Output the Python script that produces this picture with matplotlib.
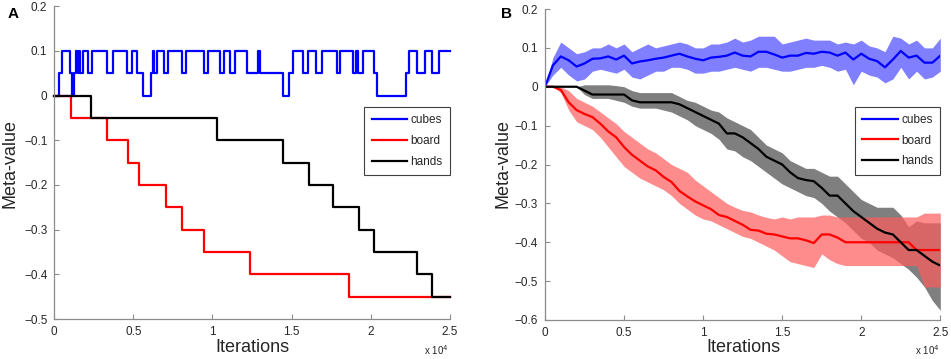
#!/usr/bin/env python3
"""Meta-value over training iterations: single run (A) and mean +/- spread (B)."""
import matplotlib.pyplot as plt
import numpy as np
from matplotlib.lines import Line2D
from matplotlib.ticker import FuncFormatter

plt.rcParams["font.family"] = ["Liberation Sans", "DejaVu Sans"]

LABELS = ["cubes", "board", "hands"]
COLORS = ["#0000ff", "#ff0000", "#000000"]

# ---- panel A: step changes (iteration where level changes, new level)
A_CUBES_X = [0, 320, 510, 990, 1100, 1240, 1370, 1480, 1560, 1640, 1830, 2150, 2380,
             3350, 3730, 4570, 4890, 5210, 5630, 6090, 6220, 6300, 6470, 6940, 7210,
             8050, 8330, 9470, 9740, 10480, 10730, 11110, 11430, 12160, 12900, 13010,
             14480, 14860, 15070, 15750, 16060, 16550, 16910, 17860, 18070, 18870,
             19080, 19230, 19500, 20220, 20430, 22240, 22450, 22910, 23440, 23860,
             24350, 25000]
A_CUBES_Y = [0, 0.05, 0.1, 0.05, 0, 0.05, 0.1, 0.05, 0.1, 0.05, 0.1, 0.05, 0.1,
             0.05, 0.1, 0.05, 0.1, 0.05, 0, 0.05, 0.1, 0.05, 0.1, 0.05, 0.1,
             0.05, 0.1, 0.05, 0.1, 0.05, 0.1, 0.05, 0.1, 0.05, 0.1, 0.05,
             0, 0.05, 0.1, 0.05, 0.1, 0.05, 0.1, 0.05, 0.1, 0.05,
             0.1, 0.05, 0.1, 0.05, 0, 0.05, 0.1, 0.05, 0.1, 0.05,
             0.1, 0.1]
A_BOARD_X = [0, 1030, 3350, 4640, 5350, 7040, 8050, 9440, 12350, 18660, 25000]
A_BOARD_Y = [0, -0.05, -0.1, -0.15, -0.2, -0.25, -0.3, -0.35, -0.4, -0.45, -0.45]
A_HANDS_X = [0, 2320, 10270, 14440, 16130, 17600, 19250, 20240, 22910, 23860, 25000]
A_HANDS_Y = [0, -0.05, -0.1, -0.15, -0.2, -0.25, -0.3, -0.35, -0.4, -0.45, -0.45]

# ---- panel B: mean and band edges, sampled every 500 iterations
B_ITER = np.arange(0, 25001, 500)
B_CUBES_MEAN = [0, 0.055, 0.078, 0.068, 0.052, 0.06, 0.072, 0.073, 0.078, 0.07,
                0.08, 0.06, 0.065, 0.068, 0.072, 0.075, 0.08, 0.085, 0.078, 0.072,
                0.068, 0.075, 0.077, 0.08, 0.088, 0.08, 0.078, 0.09, 0.09, 0.083,
                0.075, 0.08, 0.08, 0.087, 0.085, 0.09, 0.088, 0.08, 0.088, 0.07,
                0.085, 0.072, 0.066, 0.05, 0.07, 0.092, 0.075, 0.08, 0.062, 0.062,
                0.08]
B_CUBES_HI = [0, 0.075, 0.115, 0.1, 0.085, 0.09, 0.1, 0.1, 0.11, 0.1,
              0.11, 0.09, 0.1, 0.11, 0.1, 0.105, 0.11, 0.115, 0.11, 0.1,
              0.1, 0.11, 0.11, 0.115, 0.125, 0.115, 0.12, 0.13, 0.13, 0.13,
              0.11, 0.115, 0.12, 0.125, 0.12, 0.12, 0.12, 0.11, 0.115, 0.11,
              0.12, 0.105, 0.1, 0.09, 0.13, 0.125, 0.11, 0.12, 0.1, 0.1,
              0.125]
B_CUBES_LO = [0, 0.03, 0.05, 0.03, 0.015, 0.02, 0.04, 0.045, 0.04, 0.035,
              0.045, 0.025, 0.02, 0.03, 0.04, 0.04, 0.05, 0.05, 0.045, 0.035,
              0.035, 0.04, 0.04, 0.045, 0.05, 0.045, 0.04, 0.05, 0.05, 0.045,
              0.04, 0.04, 0.045, 0.05, 0.05, 0.055, 0.05, 0.04, 0.045, 0.005,
              0.04, 0.03, 0.025, 0.01, 0.02, 0.05, 0.02, 0.04, 0.02, 0.025,
              0.04]
B_BOARD_MEAN = [0, 0, -0.008, -0.04, -0.06, -0.07, -0.078, -0.095, -0.115, -0.13,
                -0.155, -0.175, -0.19, -0.205, -0.215, -0.232, -0.245, -0.268, -0.282, -0.295,
                -0.305, -0.315, -0.33, -0.335, -0.345, -0.355, -0.368, -0.37, -0.378, -0.38,
                -0.385, -0.39, -0.39, -0.395, -0.402, -0.38, -0.38, -0.388, -0.4, -0.4,
                -0.4, -0.4, -0.4, -0.4, -0.4, -0.4, -0.4, -0.42, -0.42, -0.42,
                -0.42]
B_BOARD_HI = [0, 0, 0, -0.01, -0.03, -0.04, -0.05, -0.065, -0.08, -0.095,
              -0.115, -0.13, -0.145, -0.16, -0.17, -0.185, -0.2, -0.21, -0.22, -0.24,
              -0.255, -0.27, -0.285, -0.3, -0.31, -0.318, -0.322, -0.33, -0.336, -0.34,
              -0.335, -0.34, -0.335, -0.335, -0.335, -0.33, -0.33, -0.335, -0.335, -0.335,
              -0.335, -0.335, -0.335, -0.335, -0.335, -0.335, -0.335, -0.335, -0.325, -0.325,
              -0.325]
B_BOARD_LO = [0, 0, -0.015, -0.06, -0.09, -0.1, -0.11, -0.13, -0.155, -0.18,
              -0.205, -0.22, -0.235, -0.245, -0.255, -0.265, -0.28, -0.3, -0.315, -0.33,
              -0.34, -0.345, -0.355, -0.365, -0.375, -0.385, -0.39, -0.4, -0.41, -0.42,
              -0.435, -0.45, -0.455, -0.46, -0.465, -0.43, -0.445, -0.455, -0.46, -0.46,
              -0.46, -0.46, -0.46, -0.46, -0.46, -0.46, -0.46, -0.46, -0.515, -0.515,
              -0.515]
B_HANDS_MEAN = [0, 0, 0, 0, 0, -0.01, -0.02, -0.02, -0.02, -0.02,
                -0.02, -0.035, -0.04, -0.04, -0.04, -0.04, -0.04, -0.045, -0.055, -0.065,
                -0.075, -0.085, -0.095, -0.12, -0.12, -0.13, -0.145, -0.16, -0.18, -0.19,
                -0.2, -0.22, -0.235, -0.24, -0.243, -0.26, -0.28, -0.28, -0.3, -0.32,
                -0.335, -0.35, -0.365, -0.375, -0.38, -0.4, -0.42, -0.42, -0.435, -0.45,
                -0.46]
B_HANDS_HI = [0, 0, 0, 0, 0, 0.005, 0.005, 0.005, 0.005, 0.003,
              0, -0.01, -0.015, -0.015, -0.015, -0.015, -0.015, -0.025, -0.035, -0.04,
              -0.05, -0.06, -0.065, -0.08, -0.09, -0.1, -0.11, -0.13, -0.15, -0.16,
              -0.17, -0.19, -0.2, -0.21, -0.21, -0.22, -0.23, -0.23, -0.25, -0.27,
              -0.29, -0.3, -0.31, -0.31, -0.31, -0.33, -0.36, -0.345, -0.35, -0.35,
              -0.35]
B_HANDS_LO = [0, 0, 0, 0, 0, -0.02, -0.03, -0.03, -0.03, -0.035,
              -0.04, -0.05, -0.055, -0.055, -0.055, -0.06, -0.065, -0.075, -0.085, -0.1,
              -0.11, -0.12, -0.135, -0.16, -0.165, -0.18, -0.19, -0.205, -0.22, -0.235,
              -0.25, -0.26, -0.27, -0.28, -0.285, -0.3, -0.32, -0.335, -0.35, -0.37,
              -0.39, -0.4, -0.42, -0.43, -0.44, -0.455, -0.47, -0.49, -0.515, -0.55,
              -0.575]

W, H = 951, 359
AXIS_GREY = "#8c8c8c"
TEXT_GREY = "#262626"
# band fills (blue, grey, red) - red sits on top of grey
BAND_FILLS = [("#0000ff", 0.5), ("#000000", 0.5), ("#ff5c5c", 0.7)]


def fig_xy(px, py):
    return px / W, 1 - py / H


def tick_text(v):
    v = round(v, 1)
    if abs(v) < 1e-9:
        return "0"
    return f"{v:g}".replace("-", "\u2212")


def style_axes(ax, ylo, yhi):
    ax.set_xlim(0, 25000)
    ax.set_ylim(ylo, yhi)
    ax.set_xticks(np.arange(0, 25001, 5000))
    ax.set_yticks(np.round(np.arange(ylo, yhi + 0.001, 0.1), 1))
    ax.xaxis.set_major_formatter(FuncFormatter(lambda v, _: f"{v / 1e4:g}"))
    ax.yaxis.set_major_formatter(FuncFormatter(lambda v, _: tick_text(v)))
    for side in ("top", "right"):
        ax.spines[side].set_visible(False)
    for side in ("left", "bottom"):
        ax.spines[side].set_color(AXIS_GREY)
        ax.spines[side].set_linewidth(0.9)
    ax.tick_params(direction="in", length=3.5, width=0.8, color=AXIS_GREY,
                   labelsize=8.5, labelcolor=TEXT_GREY, pad=5)


def add_legend(ax, top):
    handles = [Line2D([], [], color=c, lw=1.6) for c in COLORS]
    leg = ax.legend(handles, LABELS, loc="upper right", bbox_to_anchor=(1.0, top),
                    fontsize=8.5, handlelength=3.0, handletextpad=0.3,
                    labelspacing=0.75, borderpad=0.6, fancybox=False,
                    framealpha=1, borderaxespad=0)
    leg.get_frame().set_edgecolor("#404040")
    leg.get_frame().set_linewidth(0.8)
    for t in leg.get_texts():
        t.set_color(TEXT_GREY)


def label_panel(fig, letter, letter_x, ylab_x, x_center, x_right):
    fig.text(*fig_xy(letter_x, 14), letter, fontsize=11, fontweight="bold",
             ha="center", va="center")
    fig.text(*fig_xy(ylab_x, 163), "Meta-value", fontsize=13, rotation=90,
             ha="center", va="center", color=TEXT_GREY)
    fig.text(*fig_xy(x_center, 347), "Iterations", fontsize=13,
             ha="center", va="center", color=TEXT_GREY)
    fig.text(*fig_xy(x_right, 350), r"x 10$^{4}$", fontsize=7,
             ha="right", va="center", color=TEXT_GREY)


def main():
    fig = plt.figure(figsize=(W / 100, H / 100), dpi=100)
    axA = fig.add_axes([54.3 / W, 1 - 319 / H, 395.4 / W, 312.7 / H])
    axB = fig.add_axes([545 / W, 1 - 320 / H, 395.3 / W, 311 / H])

    # panel A
    for (xs, ys), c in zip([(A_CUBES_X, A_CUBES_Y), (A_BOARD_X, A_BOARD_Y),
                            (A_HANDS_X, A_HANDS_Y)], COLORS):
        axA.step(xs, ys, where="post", color=c, lw=1.6, clip_on=False)
    style_axes(axA, -0.5, 0.2)
    add_legend(axA, 0.677)

    # panel B
    bands = [(B_CUBES_LO, B_CUBES_HI), (B_HANDS_LO, B_HANDS_HI), (B_BOARD_LO, B_BOARD_HI)]
    for (lo, hi), (c, a) in zip(bands, BAND_FILLS):
        axB.fill_between(B_ITER, lo, hi, color=c, alpha=a, lw=0)
    for ys, c in zip([B_CUBES_MEAN, B_BOARD_MEAN, B_HANDS_MEAN], COLORS):
        axB.plot(B_ITER, ys, color=c, lw=1.6)
    style_axes(axB, -0.6, 0.2)
    add_legend(axB, 0.686)

    label_panel(fig, "A", 13, 10, 252, 449)
    label_panel(fig, "B", 506, 503, 743, 940)

    fig.savefig("out.png", dpi=100, facecolor="white")
    plt.close(fig)


if __name__ == "__main__":
    main()
